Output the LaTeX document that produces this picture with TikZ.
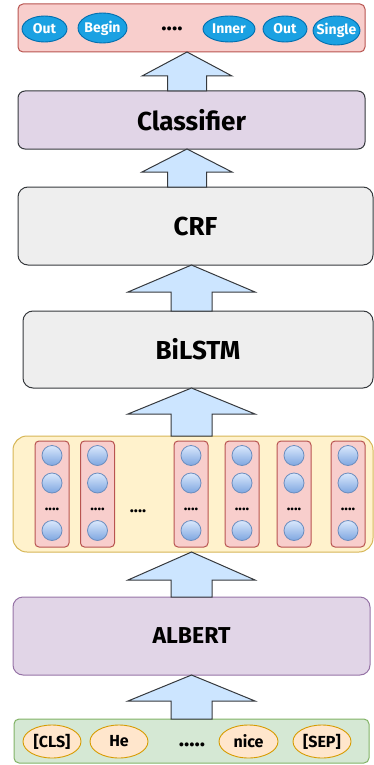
\documentclass[tikz,border=0pt]{standalone}
\usepackage{fontspec}
\setmainfont{Fira Sans}
\usetikzlibrary{calc,shapes.geometric}
\definecolor{redfill}{HTML}{F8CECC}
\definecolor{redline}{HTML}{B85450}
\definecolor{bluefill}{HTML}{1BA1E2}
\definecolor{blueline}{HTML}{006EAF}
\definecolor{purfill}{HTML}{E1D5E7}
\definecolor{purline}{HTML}{9673A6}
\definecolor{grayfill}{HTML}{EEEEEE}
\definecolor{darkline}{HTML}{36393D}
\definecolor{arrfill}{HTML}{CCE5FF}
\definecolor{yelfill}{HTML}{FFF2CC}
\definecolor{yelline}{HTML}{D6B656}
\definecolor{grnfill}{HTML}{D5E8D4}
\definecolor{grnline}{HTML}{82B366}
\definecolor{orgfill}{HTML}{FFE6CC}
\definecolor{orgline}{HTML}{D79B00}
\definecolor{cirtop}{HTML}{DAE8FC}
\definecolor{cirbot}{HTML}{7EA6E0}
\definecolor{cirline}{HTML}{6C8EBF}
\newcommand\blockarrow[6]{%
  \draw[barrow] (#1 |- #3.south) -- ($(#1 |- #3.south)+(#4,#6)$) -- ($(#1 |- #3.south)+(#5,#6)$) -- ($(#1 |- #2.north)+(#5,0)$) -- ($(#1 |- #2.north)+(-#5,0)$) -- ($(#1 |- #3.south)+(-#5,#6)$) -- ($(#1 |- #3.south)+(-#4,#6)$) -- cycle;}
\begin{document}
\begin{tikzpicture}[x=1pt,y=-1pt,
  every node/.style={inner sep=0pt,outer sep=0pt},
  layer/.style={draw,line width=1pt,rounded corners=#1,font=\fontsize{26}{28}\selectfont\bfseries},
  layer/.default=8pt,
  topell/.style={ellipse,draw=blueline,fill=bluefill,line width=0.9pt,text=white,inner xsep=-5pt,inner ysep=-3pt,font=\fontsize{14}{15}\selectfont\bfseries},
  botell/.style={ellipse,draw=orgline,fill=orgfill,line width=0.9pt,minimum width=58pt,minimum height=33pt,font=\fontsize{16}{17}\selectfont\bfseries},
  col/.style={draw=redline,fill=redfill,line width=1pt,rounded corners=4pt,minimum width=34pt,minimum height=106pt},
  cir/.style={circle,draw=cirline,line width=0.8pt,top color=cirtop,bottom color=cirbot,minimum size=20pt},
  dotstext/.style={font=\fontsize{#1}{#1}\selectfont\bfseries},
  barrow/.style={draw=darkline,fill=arrfill,line width=1pt,line join=miter}]
\useasboundingbox (0,0) rectangle (374,765);
% layers
\node[layer=5pt,draw=redline,fill=redfill,minimum width=347pt,minimum height=48pt] (out) at (191.5,28) {};
\node[layer=7pt,draw=darkline,fill=purfill,minimum width=347pt,minimum height=58pt] (cls) at (191.5,120) {Classifier};
\node[layer=10pt,draw=darkline,fill=grayfill,minimum width=355pt,minimum height=78pt] (crf) at (195.5,226) {CRF};
\node[layer=10pt,draw=darkline,fill=grayfill,minimum width=350pt,minimum height=77pt] (lstm) at (198,349.5) {BiLSTM};
\node[layer=14pt,draw=yelline,fill=yelfill,minimum width=360pt,minimum height=116pt] (emb) at (193,494) {};
\node[layer=10pt,draw=purline,fill=purfill,minimum width=357pt,minimum height=78pt,font=\fontsize{23}{25}\selectfont\bfseries] (albert) at (191.5,636) {ALBERT};
\node[layer=5pt,draw=grnline,fill=grnfill,minimum width=355pt,minimum height=44pt] (inp) at (191.5,741) {};
% output labels
\node[topell,minimum width=45pt,minimum height=26pt] (o1) at (44.5,29) {Out};
\node[topell,minimum width=49pt,minimum height=30pt] (o2) at (102.5,28) {Begin};
\node[dotstext=22] (odots) at (172,29) {....};
\node[topell,minimum width=52pt,minimum height=26pt] (o3) at (229,29) {Inner};
\node[topell,minimum width=44pt,minimum height=26pt] (o4) at (285,29) {Out};
\node[topell,minimum width=47pt,minimum height=29pt] (o5) at (336.5,30.5) {Single};
% embedding columns
\foreach \i/\x in {1/52,2/97.5,3/191,4/242,5/294,6/348}{
  \node[col] (c\i) at (\x,494) {};
  \node[cir] (c\i a) at (\x,455.5) {};
  \node[cir] (c\i b) at (\x,483) {};
  \node[dotstext=15] (c\i d) at (\x,509) {....};
  \node[cir] (c\i c) at (\x,530.5) {};
}
\node[dotstext=17] (edots) at (138,511) {....};
% input tokens
\node[botell] (t1) at (52,741.5) {[CLS]};
\node[botell] (t2) at (119,741.5) {He};
\node[dotstext=22] (tdots) at (192,745) {.....};
\node[botell,minimum width=59pt] (t3) at (248.5,741.5) {nice};
\node[botell] (t4) at (322,741.5) {[SEP]};
% arrows
\coordinate (ax1) at (187,0);
\coordinate (ax2) at (191.5,0);
\blockarrow{ax1}{cls}{out}{45}{19.5}{24}
\blockarrow{ax1}{crf}{cls}{45}{19.5}{23}
\blockarrow{ax2}{lstm}{crf}{63.5}{20.5}{27}
\blockarrow{ax2}{emb}{lstm}{63.5}{20.5}{26}
\blockarrow{ax2}{albert}{emb}{63.5}{20.5}{28}
\blockarrow{ax2}{inp}{albert}{63.5}{20.5}{26}
\end{tikzpicture}
\end{document}
